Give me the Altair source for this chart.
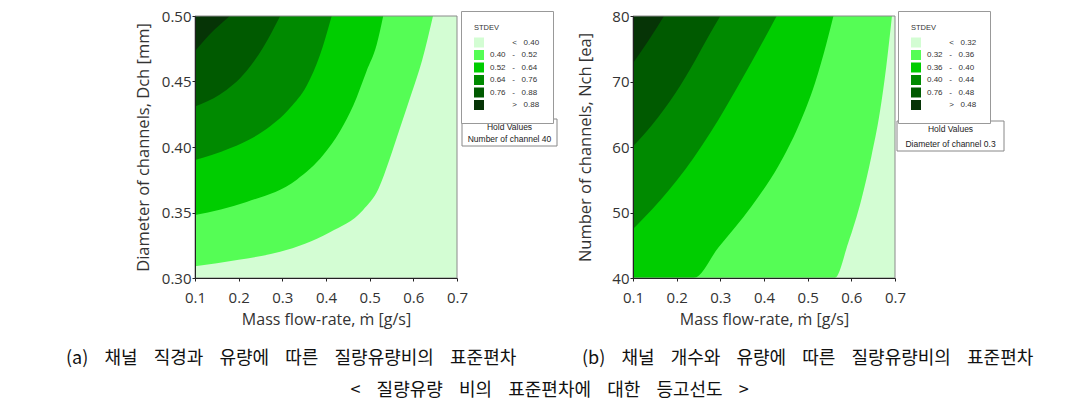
import altair as alt
import pandas as pd

NB = "\u00a0"
ZW = "\u200b"

COLORS = ["#d3fdd3", "#55fd55", "#00cd00", "#008a00", "#005a00", "#063406"]

X_DOMAIN = [0.1, 0.7]
X_TICKS = [0.1, 0.2, 0.3, 0.4, 0.5, 0.6, 0.7]

# ---------------- Panel (a): diameter of channels vs mass flow-rate ----------------
A_Y_DOMAIN = [0.30, 0.50]
A_Y_TICKS = [0.30, 0.35, 0.40, 0.45, 0.50]
A_LEGEND = [("", "<", "0.40"), ("0.40", "-", "0.52"), ("0.52", "-", "0.64"),
            ("0.64", "-", "0.76"), ("0.76", "-", "0.88"), ("", ">", "0.88")]
# contour boundaries (x = mass flow-rate, y = diameter)
A_C1_X = [0.10, 0.20, 0.295, 0.409, 0.485, 0.520, 0.545, 0.570, 0.595, 0.620, 0.645]
A_C1_Y = [0.309, 0.314, 0.320, 0.335, 0.352, 0.368, 0.390, 0.415, 0.440, 0.466, 0.500]
A_C2_X = [0.10, 0.218, 0.333, 0.394, 0.432, 0.463, 0.493, 0.516, 0.531]
A_C2_Y = [0.348, 0.358, 0.375, 0.394, 0.412, 0.432, 0.458, 0.478, 0.500]
A_C3_X = [0.10, 0.180, 0.256, 0.318, 0.356, 0.386, 0.413]
A_C3_Y = [0.390, 0.399, 0.412, 0.430, 0.447, 0.470, 0.500]
A_C4_X = [0.10, 0.157, 0.218, 0.256, 0.295]
A_C4_Y = [0.431, 0.440, 0.458, 0.476, 0.500]
A_C5_X = [0.10, 0.134, 0.180]
A_C5_Y = [0.473, 0.486, 0.500]
A_HOLD = ["Hold Values", "Number of channel 40"]
A_CAPTION_WORDS = ["(a)", "채널", "직경과", "유량에", "따른", "질량유량비의", "표준편차"]

# ---------------- Panel (b): number of channels vs mass flow-rate ----------------
B_Y_DOMAIN = [40, 80]
B_Y_TICKS = [40, 50, 60, 70, 80]
B_LEGEND = [("", "<", "0.32"), ("0.32", "-", "0.36"), ("0.36", "-", "0.40"),
            ("0.40", "-", "0.44"), ("0.76", "-", "0.48"), ("", ">", "0.48")]
B_C1_X = [0.10, 0.562, 0.593, 0.623, 0.646, 0.665, 0.680, 0.693]
B_C1_Y = [40, 40, 45.4, 52.0, 58.6, 65.2, 72.3, 80]
B_C2_X = [0.10, 0.239, 0.296, 0.372, 0.433, 0.479, 0.517, 0.543, 0.559]
B_C2_Y = [40, 40, 44.7, 51.0, 57.1, 63.2, 69.8, 75.8, 80]
B_C3_X = [0.10, 0.144, 0.220, 0.296, 0.349, 0.395, 0.429]
B_C3_Y = [47.5, 50.5, 56.6, 64.2, 70.3, 75.8, 80]
B_C4_X = [0.10, 0.144, 0.197, 0.243, 0.273, 0.300]
B_C4_Y = [60.1, 63.4, 68.2, 73.3, 76.9, 80]
B_C5_X = [0.10, 0.137, 0.171]
B_C5_Y = [72.8, 76.4, 80]
B_HOLD = ["Hold Values", "Diameter of channel 0.3"]
B_CAPTION_WORDS = ["(b)", "채널", "개수와", "유량에", "따른", "질량유량비의", "표준편차"]

MAIN_CAPTION_WORDS = ["<", "질량유량", "비의", "표준편차에", "대한", "등고선도", ">"]

W, H = 262, 262
AX_FONT = "Open Sans"
LEG_FONT = "Liberation Sans"
KR_FONT = "Noto Sans CJK KR"
GAP = NB * 4


def legend_label(lo, sym, hi):
    left = lo if lo else ZW + NB * 7
    return left + NB * 3 + sym + NB * 3 + hi


def panel(ydom, yticks, yfmt, ytitle, ytitle_pad, legend_rows, curves, hold, hold_box,
          caption, cap_x, legend_xy):
    labels = [legend_label(*r) for r in legend_rows]
    xs = alt.Scale(domain=X_DOMAIN, nice=False, zero=False)
    ys = alt.Scale(domain=ydom, nice=False, zero=False)
    cs = alt.Scale(domain=labels, range=COLORS)
    xaxis = alt.Axis(values=X_TICKS, format=".1f", title="Mass flow-rate, ṁ [g/s]",
                     labelFont=AX_FONT, titleFont=AX_FONT, labelFontSize=15, titleFontSize=16,
                     titleFontWeight="normal", labelColor="#333", titleColor="#333",
                     domainColor="#222", tickColor="#222", tickSize=3, labelPadding=9,
                     titlePadding=6, grid=False, zindex=1, labelFlush=False)
    yaxis = alt.Axis(values=yticks, format=yfmt, title=ytitle,
                     labelFont=AX_FONT, titleFont=AX_FONT, labelFontSize=15, titleFontSize=16.5,
                     titleFontWeight="normal", labelColor="#333", titleColor="#333",
                     domainColor="#222", tickColor="#222", tickSize=3, labelPadding=1,
                     titlePadding=ytitle_pad, grid=False, zindex=1, labelFlush=False)
    legend = alt.Legend(title="STDEV", orient="none", legendX=legend_xy[0], legendY=legend_xy[1],
                        direction="vertical", symbolType="square", symbolSize=100,
                        symbolStrokeWidth=0, labelFont=LEG_FONT, labelFontSize=8,
                        labelColor="#333", titleFont=LEG_FONT, titleFontSize=7.5,
                        titleFontWeight="normal", titleColor="#333", padding=13,
                        strokeColor="#999", fillColor="white", rowPadding=2.5,
                        titlePadding=6, labelOffset=6, labelLimit=200)
    top = ydom[1]
    frames = [pd.DataFrame({"x": X_DOMAIN, "y": [ydom[0]] * 2, "y2": [top] * 2, "level": labels[0]})]
    for i, (cx, cy) in enumerate(curves):
        frames.append(pd.DataFrame({"x": cx, "y": cy, "y2": [top] * len(cx), "level": labels[i + 1]}))
    layers = []
    for df in frames:
        layers.append(
            alt.Chart(df).mark_area(interpolate="monotone", orient="vertical", opacity=1).encode(
                x=alt.X("x:Q", scale=xs, axis=xaxis),
                y=alt.Y("y:Q", scale=ys, axis=yaxis),
                y2="y2:Q",
                color=alt.Color("level:N", scale=cs, legend=legend),
            )
        )
    one = pd.DataFrame({"k": [0]})
    frame = alt.Chart(one).mark_rect(fillOpacity=0, stroke="#8a8a8a", strokeWidth=1).encode(
        x=alt.value(0), x2=alt.value(W), y=alt.value(0), y2=alt.value(H))
    bx0, bx1, by0, by1 = hold_box
    box = alt.Chart(one).mark_rect(fill="white", stroke="#888", strokeWidth=1).encode(
        x=alt.value(bx0), x2=alt.value(bx1), y=alt.value(by0), y2=alt.value(by1))
    hold_layers = []
    for t, yy in zip(hold, [by0 + 8, by1 - 7]):
        hold_layers.append(
            alt.Chart(pd.DataFrame({"t": [t]})).mark_text(
                font=LEG_FONT, fontSize=8.5, color="#222", align="center", baseline="middle"
            ).encode(x=alt.value((bx0 + bx1) / 2), y=alt.value(yy), text="t:N"))
    cap = alt.Chart(pd.DataFrame({"t": [caption]})).mark_text(
        font=KR_FONT, fontSize=18, color="#111", align="left", baseline="middle").encode(
        x=alt.value(cap_x), y=alt.value(343), text="t:N")
    return alt.layer(*layers, frame, box, *hold_layers, cap).properties(width=W, height=H)


pa = panel(A_Y_DOMAIN, A_Y_TICKS, ".2f", "Diameter of channels, Dch [mm]", 10, A_LEGEND,
           [(A_C1_X, A_C1_Y), (A_C2_X, A_C2_Y), (A_C3_X, A_C3_Y), (A_C4_X, A_C4_Y), (A_C5_X, A_C5_Y)],
           A_HOLD, (267, 362, 103, 130), GAP.join(A_CAPTION_WORDS), -129, (266, -5))
pb = panel(B_Y_DOMAIN, B_Y_TICKS, "d", "Number of channels, Nch [ea]", 18, B_LEGEND,
           [(B_C1_X, B_C1_Y), (B_C2_X, B_C2_Y), (B_C3_X, B_C3_Y), (B_C4_X, B_C4_Y), (B_C5_X, B_C5_Y)],
           B_HOLD, (264, 371, 105, 135), GAP.join(B_CAPTION_WORDS), -51, (265, -5))

chart = alt.hconcat(pa, pb, spacing=19).resolve_scale(
    color="independent", x="independent", y="independent"
).properties(
    padding={"left": 66, "top": 9, "right": 5, "bottom": 5},
    title=alt.TitleParams(GAP.join(MAIN_CAPTION_WORDS), orient="bottom", anchor="middle",
                          font=KR_FONT, fontSize=18, fontWeight="normal", color="#111", offset=14),
).configure_view(stroke=None)

chart.save("out.html", embed_options={"renderer": "svg", "actions": False})
